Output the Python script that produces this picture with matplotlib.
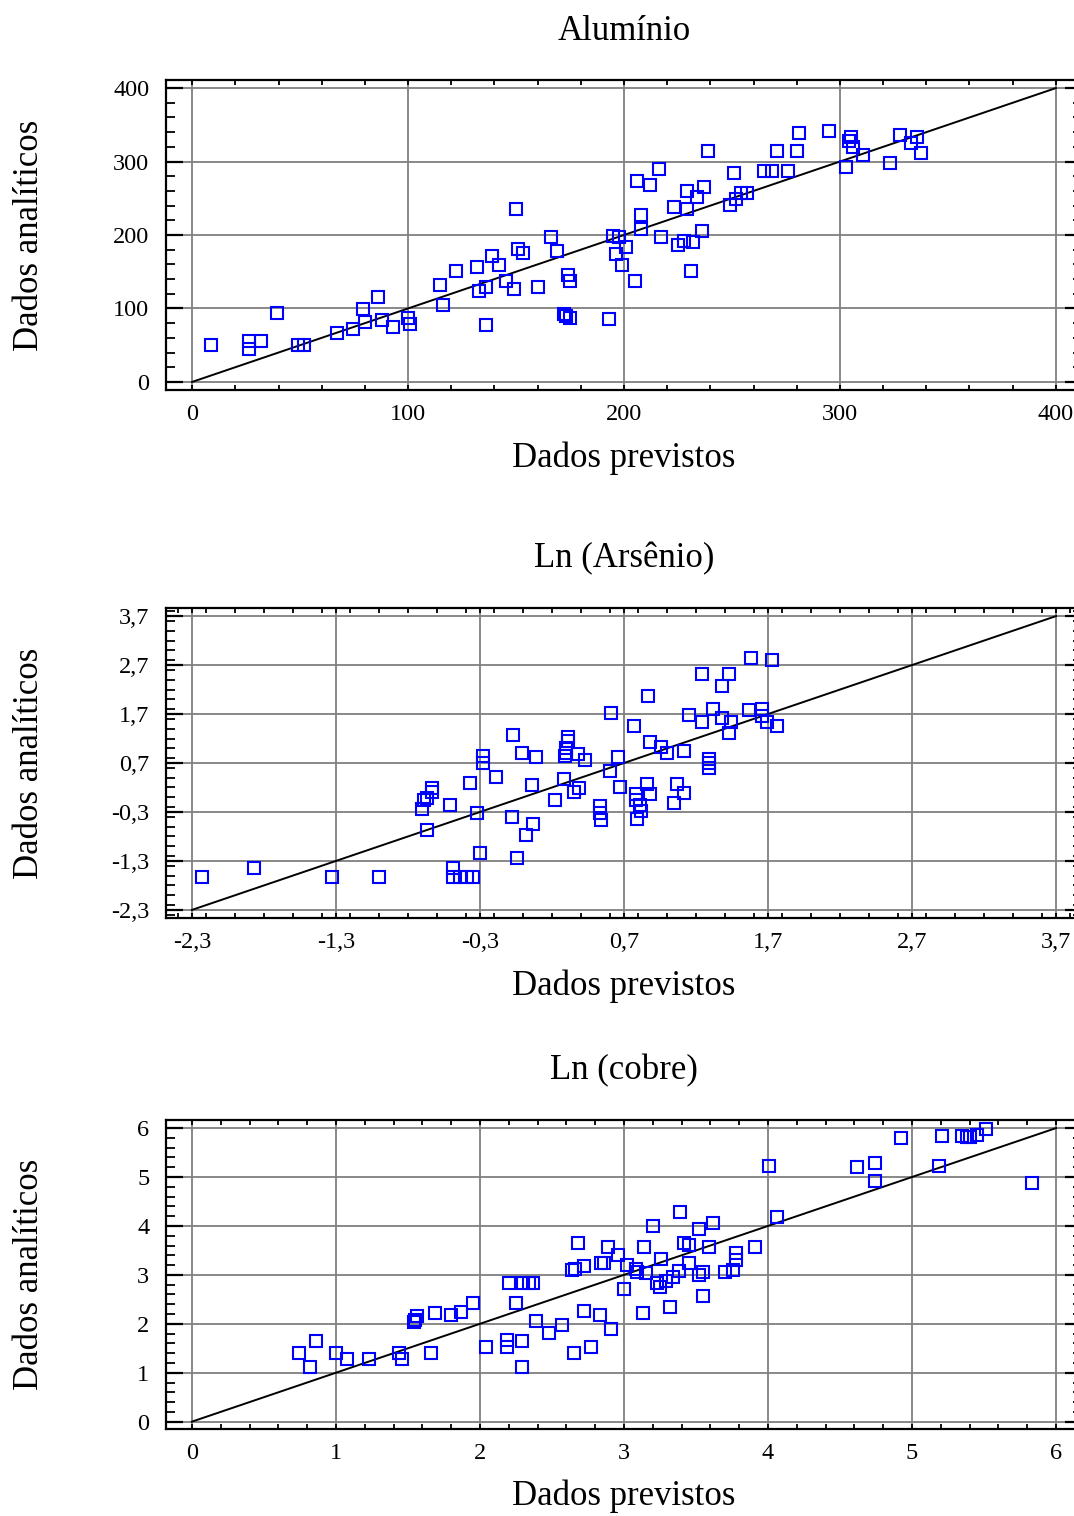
"""Dados previstos x dados analíticos: Al, ln(As), ln(Cu)."""

import matplotlib

matplotlib.use("Agg")
import matplotlib.pyplot as plt
from matplotlib.ticker import FixedLocator, MultipleLocator

plt.rcParams["font.family"] = ["Liberation Serif", "DejaVu Serif"]

# =========================
# dados
# =========================
al_prev = [8.8, 26.4, 26.4, 32, 39.4, 49, 52, 67, 74.6, 79, 80, 86, 88, 93, 100, 101,
           115, 116, 122, 132, 133, 136, 136, 139, 142, 145.5, 149, 150, 151, 153, 160,
           166, 169, 172, 173, 174, 175, 175, 193, 195, 197.5, 196.5, 199, 201, 205, 206,
           208, 208, 212, 216, 217, 223, 225, 228, 229, 229, 231, 232, 234, 236, 237,
           239, 249, 251, 252, 254, 257, 265, 268.5, 271, 276, 280, 281, 295, 304, 305,
           303, 306, 310.5, 323, 328, 333, 335.5, 337.5]
al_anal = [50, 56, 45, 56, 94, 50, 50, 67, 72, 99, 82, 116, 84, 75, 87, 79,
           132, 105, 151, 156, 124, 129, 78, 171, 159, 137, 126, 235, 181, 175, 129,
           197, 178, 92, 90, 146, 137, 87, 86, 199, 197, 174, 159, 184, 137, 273,
           227, 208, 268, 290, 197, 238, 186, 192, 260, 235, 151, 190, 252, 205, 265,
           314, 241, 284, 249, 257, 257, 287, 287, 314, 287, 314, 339, 341, 328, 333,
           293, 320, 309, 298, 336, 325, 333, 312]

as_prev = [-2.23, -1.87, -1.33, -1.0, -0.485, -0.485, -0.44, -0.39, -0.35, -0.30,
           -0.04, -0.67, -0.70, -0.69, -0.67, -0.63, -0.63, -0.51, -0.37, -0.32, -0.28,
           -0.28, -0.19, -0.07, -0.08, -0.01, 0.02, 0.06, 0.07, 0.09, 0.22, 0.28, 0.35,
           0.39, 0.31, 0.31, 0.30, 0.30, 0.29, 0.38, 0.43, 0.61, 0.60, 0.66, 0.67, 0.53,
           0.53, 0.54, 0.77, 0.87, 0.88, 0.96, 1.0, 0.86, 0.88, 0.78, 0.78, 0.82, 0.79,
           0.81, 1.05, 1.07, 1.12, 1.12, 1.15, 1.24, 1.24, 1.32, 1.29, 1.29, 1.29, 1.38,
           1.38, 1.43, 1.44, 1.43, 1.58, 1.73, 1.57, 1.66, 1.66, 1.69, 1.76]
as_anal = [-1.63, -1.44, -1.63, -1.63, -1.44, -1.63, -1.63, -1.63, -1.63, -1.14,
           -1.24, -0.66, -0.23, -0.05, -0.01, 0.18, 0.10, -0.15, 0.30, -0.32, 0.85,
           0.69, 0.42, 1.28, -0.40, 0.91, -0.77, 0.26, -0.54, 0.83, -0.05, 0.38, 0.11,
           0.18, 1.24, 1.14, 1.0, 0.91, 0.85, 0.89, 0.77, 1.73, 0.54, 0.83, 0.20, -0.17,
           -0.32, -0.46, 1.45, 2.06, 1.12, 1.02, 0.91, 0.28, 0.07, 0.07, -0.05, -0.28,
           -0.44, -0.15, -0.11, 0.28, 0.09, 0.95, 1.69, 2.51, 1.53, 1.81, 0.79, 0.69,
           0.59, 2.27, 1.61, 2.51, 1.53, 1.32, 2.84, 2.80, 1.79, 1.81, 1.66, 1.53, 1.45]

cu_prev = [0.74, 0.82, 0.86, 1.0, 1.08, 1.23, 1.44, 1.46, 1.66, 1.54, 1.56, 1.55, 1.69,
           1.80, 1.87, 1.95, 2.04, 2.19, 2.19, 2.29, 2.29, 2.25, 2.20, 2.30, 2.34, 2.37,
           2.39, 2.48, 2.57, 2.65, 2.77, 2.72, 2.83, 2.91, 2.68, 2.64, 2.66, 2.72, 2.84,
           2.86, 2.89, 2.96, 3.02, 3.0, 3.08, 3.09, 3.15, 3.14, 3.20, 3.13, 3.23, 3.25,
           3.26, 3.29, 3.34, 3.38, 3.39, 3.42, 3.45, 3.45, 3.32, 3.52, 3.62, 3.59, 3.52,
           3.55, 3.55, 3.70, 3.76, 3.78, 3.78, 3.91, 4.01, 4.06, 4.62, 4.74, 4.74, 4.92,
           5.19, 5.21, 5.35, 5.38, 5.40, 5.45, 5.51, 5.83]
cu_anal = [1.41, 1.12, 1.65, 1.41, 1.29, 1.29, 1.41, 1.29, 1.41, 2.04, 2.16, 2.08, 2.22,
           2.18, 2.24, 2.43, 1.53, 1.67, 1.53, 1.65, 1.12, 2.43, 2.84, 2.84, 2.84, 2.84,
           2.06, 1.82, 1.98, 1.41, 1.53, 2.27, 2.18, 1.90, 3.65, 3.10, 3.12, 3.18, 3.24,
           3.24, 3.57, 3.41, 3.20, 2.71, 3.12, 3.06, 3.04, 3.57, 4.00, 2.22, 2.84, 2.75,
           3.33, 2.88, 2.96, 3.08, 4.29, 3.65, 3.61, 3.24, 2.35, 3.94, 4.06, 3.57, 3.00,
           3.06, 2.57, 3.06, 3.10, 3.31, 3.45, 3.57, 5.22, 4.18, 5.20, 5.29, 4.92, 5.80,
           5.22, 5.84, 5.84, 5.82, 5.82, 5.86, 5.98, 4.88]

titulos = ["Alumínio", "Ln (Arsênio)", "Ln (cobre)"]

al_ticks = [0, 100, 200, 300, 400]
al_labels = ["0", "100", "200", "300", "400"]
as_ticks = [-2.3, -1.3, -0.3, 0.7, 1.7, 2.7, 3.7]
as_labels = ["-2,3", "-1,3", "-0,3", "0,7", "1,7", "2,7", "3,7"]
cu_ticks = [0, 1, 2, 3, 4, 5, 6]
cu_labels = ["0", "1", "2", "3", "4", "5", "6"]

# pos = (bottom, height) em fração da figura
PAINEIS = [
    dict(x=al_prev, y=al_anal, ticks=al_ticks, labels=al_labels, minor=20,
         lim=(-12.1, 412.1), ylim=(-11, 411), pos=(1 - 390 / 1516, 310 / 1516)),
    dict(x=as_prev, y=as_anal, ticks=as_ticks, labels=as_labels, minor=0.2,
         lim=(-2.48, 3.88), ylim=(-2.465, 3.865), pos=(1 - 918 / 1516, 310 / 1516)),
    dict(x=cu_prev, y=cu_anal, ticks=cu_ticks, labels=cu_labels, minor=0.2,
         lim=(-0.18, 6.18), ylim=(-0.15, 6.165), pos=(1 - 1429 / 1516, 309 / 1516)),
]


def desenha(ax, p, titulo):
    lo, hi = p["ticks"][0], p["ticks"][-1]
    ax.plot([lo, hi], [lo, hi], color="black", lw=1.4, zorder=2)
    ax.plot(p["x"], p["y"], ls="none", marker="s", ms=9, mfc="none",
            mec="#0000ff", mew=1.5, zorder=3, clip_on=False)

    ax.set_xlim(*p["lim"])
    ax.set_ylim(*p["ylim"])
    for axis in (ax.xaxis, ax.yaxis):
        axis.set_major_locator(FixedLocator(p["ticks"]))
        axis.set_minor_locator(MultipleLocator(p["minor"]))
    ax.set_xticklabels(p["labels"])
    ax.set_yticklabels(p["labels"])

    ax.grid(True, which="major", color="#7f7f7f", lw=1.3)
    ax.set_axisbelow(True)
    for s in ax.spines.values():
        s.set_linewidth(1.6)

    ax.tick_params(axis="x", which="both", direction="in", top=True, bottom=True,
                   length=3.8, width=1.3, labelsize=17.5, pad=10)
    ax.tick_params(axis="y", which="major", direction="in", left=True, right=True,
                   length=12, width=1.6, labelsize=17.5, pad=12)
    ax.tick_params(axis="y", which="minor", direction="in", left=True, right=True,
                   length=6.5, width=1.3)

    ax.set_title(titulo, fontsize=25, pad=29)
    ax.set_xlabel("Dados previstos", fontsize=25)
    ax.set_ylabel("Dados analíticos", fontsize=25)
    ax.xaxis.set_label_coords(0.5, -0.165)
    ax.yaxis.set_label_coords(-0.131, 0.5)


def main():
    fig = plt.figure(figsize=(10.74, 15.16), dpi=100)
    for p, titulo in zip(PAINEIS, titulos):
        bottom, height = p["pos"]
        ax = fig.add_axes([166 / 1074, bottom, 916 / 1074, height])
        desenha(ax, p, titulo)
    fig.savefig("out.png", dpi=100)


if __name__ == "__main__":
    main()
